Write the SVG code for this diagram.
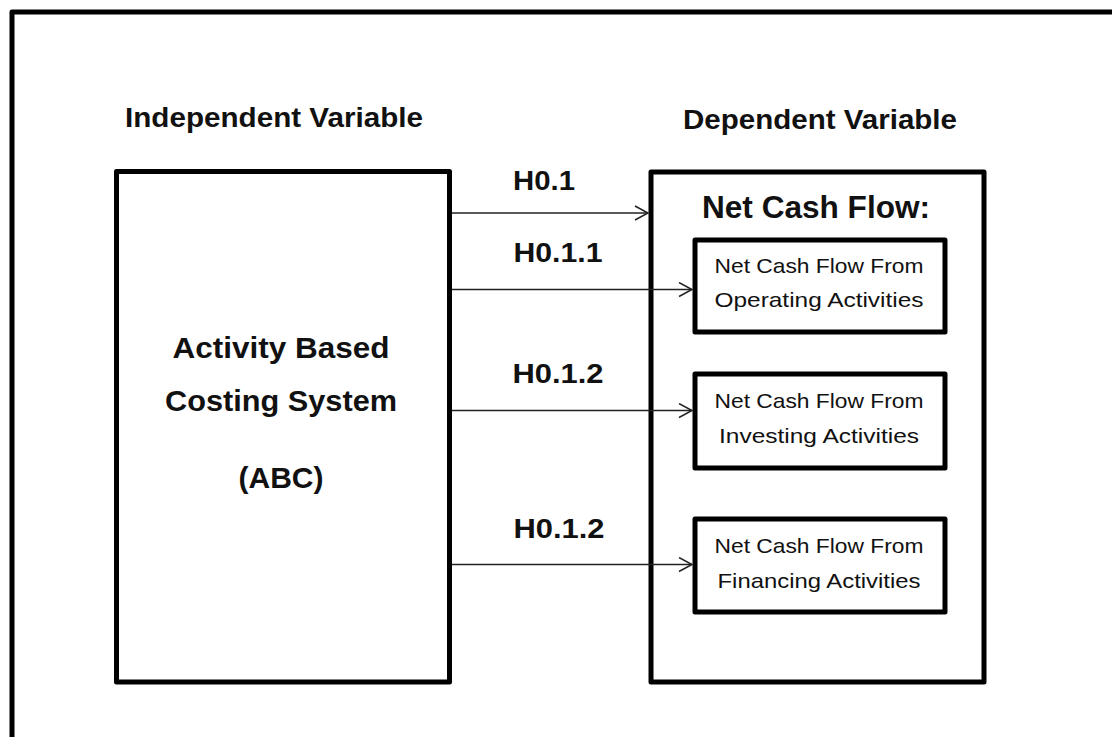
<svg xmlns="http://www.w3.org/2000/svg" width="1112" height="737" viewBox="0 0 1112 737">
<style>
.box{fill:#fff;stroke:#000;stroke-width:5;stroke-linejoin:round}
.frame{fill:none;stroke:#000;stroke-width:5;stroke-linejoin:round}
.conn{stroke:#222;stroke-width:1.5;fill:none}
.hd{font-family:"Liberation Sans",Arial,sans-serif;font-weight:bold;fill:#111;text-anchor:middle}
.sm{font-family:"Liberation Sans",Arial,sans-serif;fill:#111;text-anchor:middle;font-size:21px}
</style>
<defs>
<marker id="arr" markerWidth="16" markerHeight="16" refX="14" refY="8" orient="auto" markerUnits="userSpaceOnUse">
<path d="M1,1 L14,8 L1,15" fill="none" stroke="#222" stroke-width="1.5"/>
</marker>
</defs>
<rect width="1112" height="737" fill="#fff"/>
<path class="frame" d="M12,745 L12,12 L1120,12"/>
<text class="hd" x="274" y="127" font-size="28" textLength="298" lengthAdjust="spacingAndGlyphs">Independent Variable</text>
<text class="hd" x="820" y="129" font-size="28" textLength="274" lengthAdjust="spacingAndGlyphs">Dependent Variable</text>
<g id="abc">
<rect class="box" x="116.5" y="171.5" width="333" height="510.5"/>
<text class="hd" x="281" y="358" font-size="30" textLength="217" lengthAdjust="spacingAndGlyphs">Activity Based</text>
<text class="hd" x="281" y="411" font-size="30" textLength="232" lengthAdjust="spacingAndGlyphs">Costing  System</text>
<text class="hd" x="281" y="488" font-size="30" textLength="85" lengthAdjust="spacingAndGlyphs">(ABC)</text>
</g>
<g id="ncf">
<rect class="box" x="651" y="172" width="333" height="510"/>
<text class="hd" x="816" y="218" font-size="31" textLength="228" lengthAdjust="spacingAndGlyphs">Net Cash  Flow:</text>
</g>
<g id="operating">
<rect class="box" x="695" y="240" width="250" height="92"/>
<text class="sm" x="819" y="273" textLength="209" lengthAdjust="spacingAndGlyphs">Net Cash Flow From</text>
<text class="sm" x="819" y="307" textLength="209" lengthAdjust="spacingAndGlyphs">Operating Activities</text>
</g>
<g id="investing">
<rect class="box" x="695" y="374" width="250" height="94"/>
<text class="sm" x="819" y="408" textLength="209" lengthAdjust="spacingAndGlyphs">Net Cash Flow From</text>
<text class="sm" x="819" y="443" textLength="200" lengthAdjust="spacingAndGlyphs">Investing Activities</text>
</g>
<g id="financing">
<rect class="box" x="695" y="519" width="250" height="93"/>
<text class="sm" x="819" y="553" textLength="209" lengthAdjust="spacingAndGlyphs">Net Cash Flow From</text>
<text class="sm" x="819" y="588" textLength="203" lengthAdjust="spacingAndGlyphs">Financing Activities</text>
</g>
<g id="connectors">
<line class="conn" x1="452" y1="213" x2="648" y2="213" marker-end="url(#arr)"/>
<line class="conn" x1="452" y1="289.5" x2="692" y2="289.5" marker-end="url(#arr)"/>
<line class="conn" x1="452" y1="410.5" x2="692" y2="410.5" marker-end="url(#arr)"/>
<line class="conn" x1="452" y1="564.5" x2="692" y2="564.5" marker-end="url(#arr)"/>
<text class="hd" x="544" y="190" font-size="28" textLength="62" lengthAdjust="spacingAndGlyphs">H0.1</text>
<text class="hd" x="558" y="262" font-size="28" textLength="89" lengthAdjust="spacingAndGlyphs">H0.1.1</text>
<text class="hd" x="558" y="383" font-size="28" textLength="91" lengthAdjust="spacingAndGlyphs">H0.1.2</text>
<text class="hd" x="559" y="538" font-size="28" textLength="91" lengthAdjust="spacingAndGlyphs">H0.1.2</text>
</g>
</svg>
